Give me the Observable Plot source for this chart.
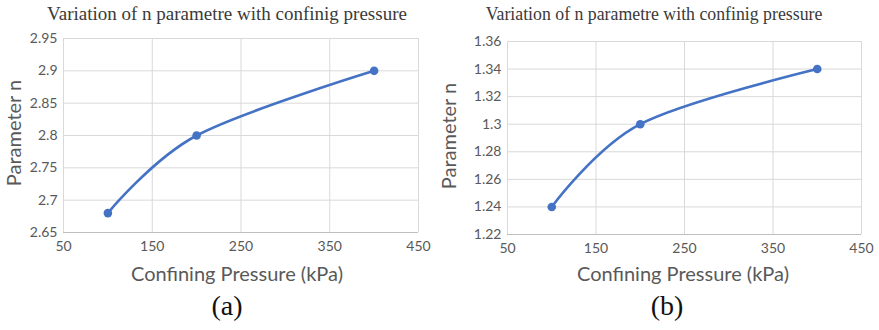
<!DOCTYPE html>
<html>
<head>
<meta charset="utf-8">
<script src="https://cdn.jsdelivr.net/npm/d3@7"></script>
<script src="https://cdn.jsdelivr.net/npm/@observablehq/plot@0.6"></script>
<style>
  html, body { margin: 0; padding: 0; background: #fff; }
  #wrap { position: relative; width: 879px; height: 330px; overflow: hidden; }
  .panel { position: absolute; top: 0; height: 330px; }
  .lbl { position: absolute; transform: translate(-50%, -50%); white-space: nowrap; line-height: 1; }
  .title { font-family: "Liberation Serif", "Times New Roman", serif; color: #3a3a3a; }
  .xt { font-family: Lato, "Open Sans", sans-serif; font-size: 20px; color: #595959; }
  .yt { font-family: Lato, "Open Sans", sans-serif; font-size: 20px; color: #595959; transform: translate(-50%, -50%) rotate(-90deg); }
  .cap { font-family: "Liberation Serif", "Times New Roman", serif; font-size: 28px; color: #111; }
</style>
</head>
<body>
<div id="wrap">
  <div class="panel" id="pa" style="left:0;width:440px"></div>
  <div class="panel" id="pb" style="left:440px;width:439px"></div>

  <div class="lbl title" style="left:227px;top:13px;font-size:19px">Variation of n parametre with confinig pressure</div>
  <div class="lbl yt" style="left:13px;top:133px">Parameter n</div>
  <div class="lbl xt" style="left:237px;top:273px">Confining Pressure (kPa)</div>
  <div class="lbl cap" style="left:227px;top:306px">(a)</div>

  <div class="lbl title" style="left:654px;top:15px;font-size:17.8px">Variation of n parametre with confinig pressure</div>
  <div class="lbl yt" style="left:448px;top:136px">Parameter n</div>
  <div class="lbl xt" style="left:683px;top:273px">Confining Pressure (kPa)</div>
  <div class="lbl cap" style="left:667px;top:306px">(b)</div>
</div>
<script>
// Confining pressure (kPa) and fitted n parameter for both test series
const pressure = [100, 200, 400];
const nSeriesA = [2.68, 2.80, 2.90];
const nSeriesB = [1.24, 1.30, 1.34];

// Axis ticks
const xTicks = [50, 150, 250, 350, 450];
const yTicksA = [2.65, 2.7, 2.75, 2.8, 2.85, 2.9, 2.95];
const yTicksB = [1.22, 1.24, 1.26, 1.28, 1.3, 1.32, 1.34, 1.36];

const lineColor = "#4472C4";
const gridColor = "#d9d9d9";

function panel({values, yTicks, width, marginLeft, marginRight, marginTop, marginBottom}) {
  const data = pressure.map((p, i) => ({p, n: values[i]}));
  const yMin = yTicks[0], yMax = yTicks[yTicks.length - 1];
  return Plot.plot({
    width, height: 330,
    marginLeft, marginRight, marginTop, marginBottom,
    style: {fontFamily: "Lato, 'Open Sans', sans-serif", fontSize: "14px", color: "#595959", background: "transparent"},
    x: {domain: [xTicks[0], xTicks[xTicks.length - 1]]},
    y: {domain: [yMin, yMax]},
    marks: [
      Plot.ruleY(yTicks.slice(1), {stroke: gridColor, strokeWidth: 1}),
      Plot.ruleX(xTicks, {stroke: gridColor, strokeWidth: 1}),
      Plot.ruleY([yMin], {stroke: "#bfbfbf", strokeWidth: 1}),
      Plot.axisY(yTicks, {tickSize: 0, tickPadding: 6, label: null, tickFormat: d => String(d), fill: "#595959"}),
      Plot.axisX(xTicks, {tickSize: 0, tickPadding: 9, label: null, tickFormat: d => String(d), fill: "#595959"}),
      // smoothed connector through the three measured points
      Plot.line(data, {x: "p", y: "n", curve: "cardinal", tension: 0, stroke: lineColor, strokeWidth: 2.6}),
      Plot.dot(data, {x: "p", y: "n", r: 4.3, fill: lineColor, stroke: "none"})
    ]
  });
}

document.getElementById("pa").append(panel({
  values: nSeriesA, yTicks: yTicksA, width: 440,
  marginLeft: 63, marginRight: 22, marginTop: 38, marginBottom: 98
}));
document.getElementById("pb").append(panel({
  values: nSeriesB, yTicks: yTicksB, width: 439,
  marginLeft: 67, marginRight: 18, marginTop: 41, marginBottom: 96
}));
</script>
</body>
</html>
